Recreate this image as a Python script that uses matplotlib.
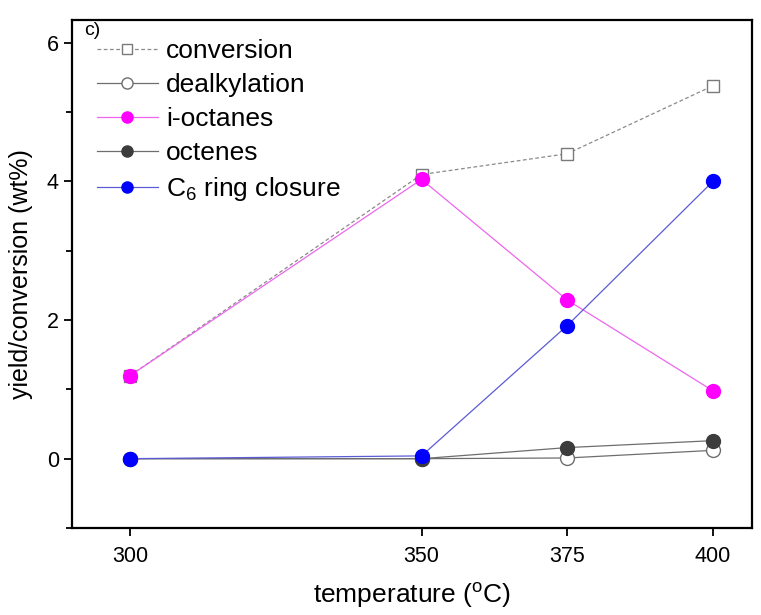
import matplotlib
matplotlib.use("Agg")
import matplotlib.pyplot as plt
from matplotlib.ticker import MultipleLocator

plt.rcParams['font.family'] = ['Liberation Sans', 'DejaVu Sans']
plt.rcParams['mathtext.default'] = 'regular'

# reaction temperatures (degC)
temperature = [300, 350, 375, 400]

# yields / conversion in wt%
conversion = [1.2, 4.1, 4.4, 5.38]
dealkylation = [0.0, 0.0, 0.01, 0.12]
i_octanes = [1.2, 4.03, 2.29, 0.98]
octenes = [0.0, 0.0, 0.16, 0.26]
ring_closure = [0.0, 0.04, 1.92, 4.0]

fig = plt.figure(figsize=(7.61, 6.15), dpi=100)
ax = fig.add_axes([0.0946, 0.1415, 0.8934, 0.826])

ax.plot(temperature, conversion, ls='--', lw=0.9, color='#8a8a8a',
        marker='s', ms=9, mfc='white', mec='#7a7a7a', mew=1.0,
        dashes=(3, 2), label='conversion')
ax.plot(temperature, dealkylation, ls='-', lw=0.9, color='#6e6e6e',
        marker='o', ms=10, mfc='white', mec='#6e6e6e', mew=1.0,
        label='dealkylation')
ax.plot(temperature, i_octanes, ls='-', lw=0.9, color='#ee66ee',
        marker='o', ms=10, mfc='#ff00ff', mec='#ff00ff',
        label='i-octanes')
ax.plot(temperature, octenes, ls='-', lw=0.9, color='#6e6e6e',
        marker='o', ms=10, mfc='#3c3c3c', mec='#3c3c3c',
        label='octenes')
ax.plot(temperature, ring_closure, ls='-', lw=0.9, color='#5b5bd6',
        marker='o', ms=10, mfc='#0000ff', mec='#0000ff',
        label='C$_6$ ring closure')

ax.set_xlim(290, 406.7)
ax.set_ylim(-1, 6.33)
ax.set_xticks(temperature)
ax.yaxis.set_major_locator(MultipleLocator(2))
ax.yaxis.set_minor_locator(MultipleLocator(1))
ax.tick_params(axis='both', which='major', direction='out', length=6,
               width=1.3, labelsize=15.5)
ax.tick_params(axis='x', which='major', pad=7)
ax.tick_params(axis='y', which='minor', direction='out', length=4, width=1.3)
for sp in ax.spines.values():
    sp.set_linewidth(1.6)

ax.set_xlabel('temperature ($^o$C)', fontsize=19, labelpad=10)
ax.set_ylabel('yield/conversion (wt%)', fontsize=18, labelpad=10)

ax.text(0.018, 0.98, 'c)', transform=ax.transAxes, fontsize=14,
        va='center', ha='left')

ax.legend(loc='upper left', bbox_to_anchor=(0.037, 0.962), frameon=False,
          fontsize=19, handlelength=2.3, handletextpad=0.3,
          labelspacing=0.38, borderaxespad=0, borderpad=0, markerscale=0.8)

fig.savefig('out.png', dpi=100)
